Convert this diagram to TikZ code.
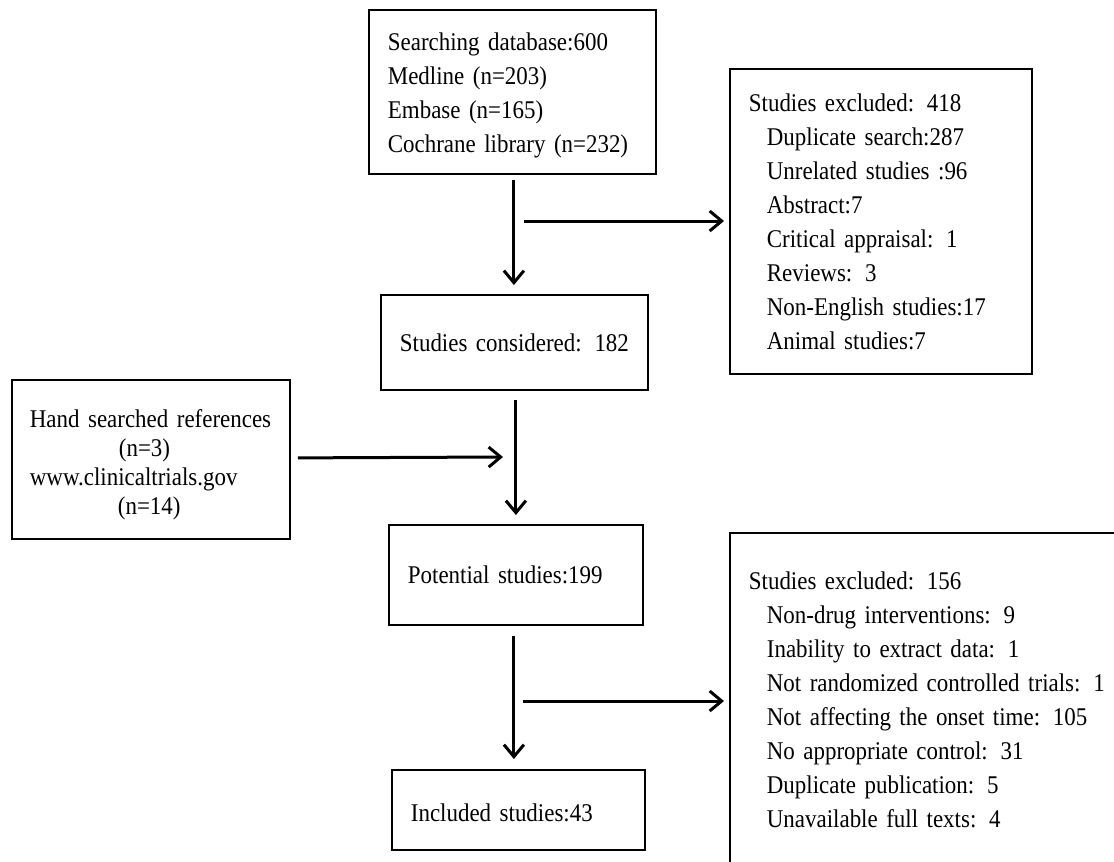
\documentclass[tikz,border=0pt]{standalone}
\usepackage{fontspec}
\setmainfont{Liberation Serif}[FakeStretch=0.9]
\usetikzlibrary{arrows.meta,calc}
\begin{document}
\begin{tikzpicture}[x=1pt,y=1pt,
  box/.style={draw, line width=1.8pt, rectangle, anchor=north west, inner xsep=19pt, inner ysep=0pt, align=left, font=\fontsize{25.5}{34}\selectfont},
  arr/.style={line width=3pt, -{Straight Barb[length=12pt,width=20pt]}}]
\clip (0,0) rectangle (1114,-862);
\useasboundingbox (0,0) rectangle (1114,-862);

\node[box, minimum width=287pt, minimum height=164pt, text width=249pt] (search) at (368,-9)
  {\rule{0pt}{24.5pt}\mbox{Searching database:600}\\\mbox{Medline (n=203)}\\\mbox{Embase (n=165)}\\\mbox{Cochrane library (n=232)}};
\node[box, minimum width=302pt, minimum height=305pt, text width=264pt] (excl1) at (729,-68)
  {\mbox{Studies excluded: 418}\\
   \hspace*{18pt}\mbox{Duplicate search:287}\\
   \hspace*{18pt}\mbox{Unrelated studies :96}\\
   \hspace*{18pt}\mbox{Abstract:7}\\
   \hspace*{18pt}\mbox{Critical appraisal: 1}\\
   \hspace*{18pt}\mbox{Reviews: 3}\\
   \hspace*{18pt}\mbox{Non-English studies:17}\\
   \hspace*{18pt}\mbox{Animal studies:7}};
\node[box, minimum width=267pt, minimum height=95pt, text width=229pt] (considered) at (380,-294)
  {\mbox{Studies considered: 182}};
\node[box, inner xsep=18pt, minimum width=278pt, minimum height=159pt, text width=242pt,
      font=\fontsize{25.5}{29}\selectfont] (hand) at (11,-379)
  {\rule{0pt}{28.5pt}\mbox{Hand searched references}\\
   \hspace*{89pt}\mbox{(n=3)}\\
   \mbox{www.clinicaltrials.gov}\\
   \hspace*{88pt}\mbox{(n=14)}};
\node[box, minimum width=254pt, minimum height=100pt, text width=216pt] (potential) at (388,-524)
  {\mbox{Potential studies:199}};
\node[box, minimum width=420pt, minimum height=334pt, text width=382pt] (excl2) at (729,-532)
  {\mbox{Studies excluded: 156}\\
   \hspace*{18pt}\mbox{Non-drug interventions: 9}\\
   \hspace*{18pt}\mbox{Inability to extract data: 1}\\
   \hspace*{18pt}\mbox{Not randomized controlled trials: 1}\\
   \hspace*{18pt}\mbox{Not affecting the onset time: 105}\\
   \hspace*{18pt}\mbox{No appropriate control: 31}\\
   \hspace*{18pt}\mbox{Duplicate publication: 5}\\
   \hspace*{18pt}\mbox{Unavailable full texts: 4}};
\node[box, minimum width=253pt, minimum height=80pt, text width=215pt] (included) at (391,-769)
  {\rule{0pt}{24.5pt}\mbox{Included studies:43}};

\coordinate (b1) at (524,-221);
\coordinate (b2) at (503,-457);
\coordinate (b3) at (523,-701);

\draw[arr] ($(search.south)+(1.5,-5)$) -- ($(considered.north)+(-0.5,9)$);
\draw[arr] (b1) -- ($(b1 -| excl1.west)+(-5,0)$);
\draw[arr] ($(considered.south)+(1.5,-9)$) -- ($(potential.north)+(0,9)$);
\draw[arr] ($(hand.east)+(7,1.5)$) -- (b2);
\draw[arr] ($(potential.south)+(-2,-10)$) -- ($(included.north)+(-4.5,10)$);
\draw[arr] (b3) -- ($(b3 -| excl2.west)+(-5,0)$);
\end{tikzpicture}
\end{document}
